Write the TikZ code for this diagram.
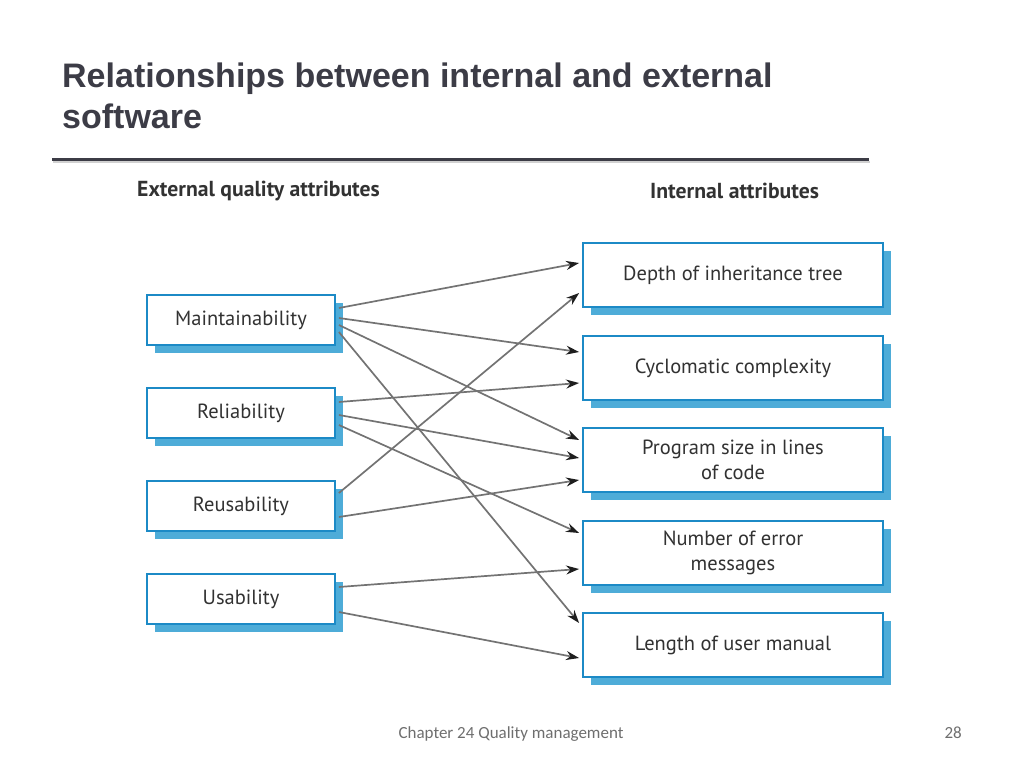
\documentclass[tikz,border=0pt]{standalone}
\usepackage{fontspec}
\setmainfont{Liberation Sans}
\newfontfamily\boxfont{PT Sans}
\newfontfamily\footfont{Carlito}
\usetikzlibrary{arrows.meta,shadows}
\definecolor{titlegray}{RGB}{60,60,70}
\definecolor{boxblue}{RGB}{28,138,198}
\definecolor{shadowblue}{RGB}{78,172,216}
\definecolor{textgray}{RGB}{50,50,50}
\definecolor{linegray}{RGB}{115,115,115}
\definecolor{tipgray}{RGB}{30,30,30}
\definecolor{footgray}{RGB}{110,110,110}
\tikzset{
  basebox/.style={draw=boxblue, line width=1.8pt, fill=white, inner sep=0pt,
    font=\boxfont\fontsize{20.5}{25}\selectfont, text=textgray, align=center,
    drop shadow={shadow xshift=8pt, shadow yshift=-8pt, fill=shadowblue, opacity=1}},
  lbox/.style={basebox, minimum width=188pt, minimum height=50pt},
  rbox/.style={basebox, minimum width=300pt, minimum height=64pt},
  head/.style={font=\boxfont\bfseries\fontsize{21.7}{25}\selectfont, text=textgray, anchor=west, inner sep=0pt},
  conn/.style={draw=linegray, line width=1.7pt,
    -{Stealth[length=13pt, width=9pt, color=tipgray]}}
}
\begin{document}
\begin{tikzpicture}[x=1pt, y=-1pt]
\useasboundingbox (0,0) rectangle (1024,768);
\node[anchor=base west, inner sep=0pt, text=titlegray, font=\bfseries\fontsize{34}{40}\selectfont] (t1) at (62,87) {Relationships between internal and external};
\node[anchor=base west, inner sep=0pt, text=titlegray, font=\bfseries\fontsize{34}{40}\selectfont] (t2) at (62,128) {software};
\draw[line width=2pt, black!18] (53,162) -- (870,162);
\draw[line width=3pt, titlegray] (52,159) -- (869,159);

\node[head] (hl) at (137,191) {External quality attributes};
\node[head] (hr) at (650,191) {Internal attributes};

\node[lbox] (m) at (241,320) {Maintainability};
\node[lbox] (r) at (241,413) {Reliability};
\node[lbox] (u) at (241,506) {Reusability};
\node[lbox] (s) at (241,599) {Usability};

\node[rbox] (d) at (733,275) {Depth of inheritance tree};
\node[rbox] (c) at (733,368) {Cyclomatic complexity};
\node[rbox] (p) at (733,460) {Program size in lines\\of code};
\node[rbox] (n) at (733,553) {Number of error\\messages};
\node[rbox] (l) at (733,645) {Length of user manual};

\draw[conn] ([xshift=3pt,yshift=12pt]m.east) -- ([xshift=-3pt,yshift=12pt]d.west);
\draw[conn] ([xshift=3pt,yshift=2pt]m.east) -- ([xshift=-3pt,yshift=16pt]c.west);
\draw[conn] ([xshift=3pt,yshift=-5pt]m.east) -- ([xshift=-3pt,yshift=20pt]p.west);
\draw[conn] ([xshift=3pt,yshift=-12pt]m.east) -- ([xshift=-3pt,yshift=22pt]l.west);
\draw[conn] ([xshift=3pt,yshift=11pt]r.east) -- ([xshift=-3pt,yshift=-15pt]c.west);
\draw[conn] ([xshift=3pt,yshift=-2pt]r.east) -- ([xshift=-3pt,yshift=2pt]p.west);
\draw[conn] ([xshift=3pt,yshift=-12pt]r.east) -- ([xshift=-3pt,yshift=20pt]n.west);
\draw[conn] ([xshift=3pt,yshift=13pt]u.east) -- ([xshift=-3pt,yshift=-18pt]d.west);
\draw[conn] ([xshift=3pt,yshift=-11pt]u.east) -- ([xshift=-3pt,yshift=-20pt]p.west);
\draw[conn] ([xshift=3pt,yshift=12pt]s.east) -- ([xshift=-3pt,yshift=-16pt]n.west);
\draw[conn] ([xshift=3pt,yshift=-13pt]s.east) -- ([xshift=-3pt,yshift=-13pt]l.west);

\node[anchor=base, inner sep=0pt, text=footgray, font=\footfont\fontsize{17}{20}\selectfont] (foot) at (511,738) {Chapter 24 Quality management};
\node[anchor=base east, inner sep=0pt, text=footgray, font=\footfont\fontsize{17}{20}\selectfont] (pg) at (962,738) {28};
\end{tikzpicture}
\end{document}
